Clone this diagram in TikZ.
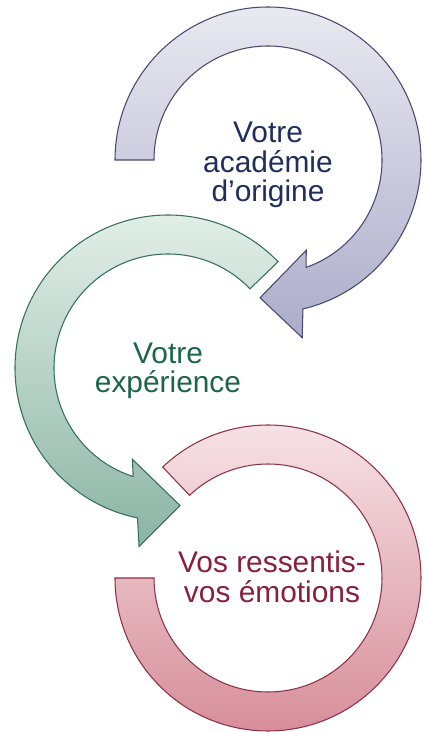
\documentclass[tikz,border=0pt]{standalone}
\usepackage{fontspec}
\setmainfont{Liberation Sans}
\definecolor{navytext}{RGB}{31,45,95}
\definecolor{blueline}{RGB}{72,72,112}
\definecolor{bluetop}{RGB}{233,233,241}
\definecolor{bluebot}{RGB}{172,172,202}
\definecolor{greentext}{RGB}{28,102,72}
\definecolor{greenline}{RGB}{52,112,88}
\definecolor{greentop}{RGB}{230,241,236}
\definecolor{greenbot}{RGB}{138,180,164}
\definecolor{redtext}{RGB}{135,32,62}
\definecolor{redline}{RGB}{140,50,72}
\definecolor{redtop}{RGB}{248,230,233}
\definecolor{redbot}{RGB}{213,138,150}

\begin{document}
\begin{tikzpicture}[x=0.2mm, y=0.2mm,
  ring/.style={line width=0.6pt},
  steptext/.style={align=center, font={\fontsize{17}{16.8}\selectfont}}]
  \useasboundingbox (0,0) rectangle (424,732);

  % Bottom ring (no head), runs clockwise
  \draw[ring, draw=redline, top color=redtop, bottom color=redbot, shift={(268,154)}]
    (133.5:153) arc[start angle=133.5, end angle=-180, radius=153]
    -- (-180:114) arc[start angle=-180, end angle=133.5, radius=114] -- cycle;

  % Middle arrow, runs counter-clockwise
  \draw[ring, draw=greenline, top color=greentop, bottom color=greenbot, shift={(168,364)}]
    (44:153) arc[start angle=44, end angle=258.5, radius=153]
    -- (260.8:181) -- (275:138) -- (248.7:98) -- (252.2:114)
    arc[start angle=252.2, end angle=44, radius=114] -- cycle;

  % Top arrow, runs clockwise
  \draw[ring, draw=blueline, top color=bluetop, bottom color=bluebot, shift={(268,572)}]
    (180:153) arc[start angle=180, end angle=-76.8, radius=153]
    -- (-79.1:181) -- (-93.3:138) -- (-67:98) -- (-70.5:114)
    arc[start angle=-70.5, end angle=180, radius=114] -- cycle;

  % Labels
  \node[steptext, text=navytext] (academie) at (268,567) {Votre\\académie\\d’origine};
  \node[steptext, text=greentext] (experience) at (168,361) {Votre\\expérience};
  \node[steptext, text=redtext] (ressentis) at (272,155) {Vos ressentis-\\vos émotions};
\end{tikzpicture}
\end{document}
